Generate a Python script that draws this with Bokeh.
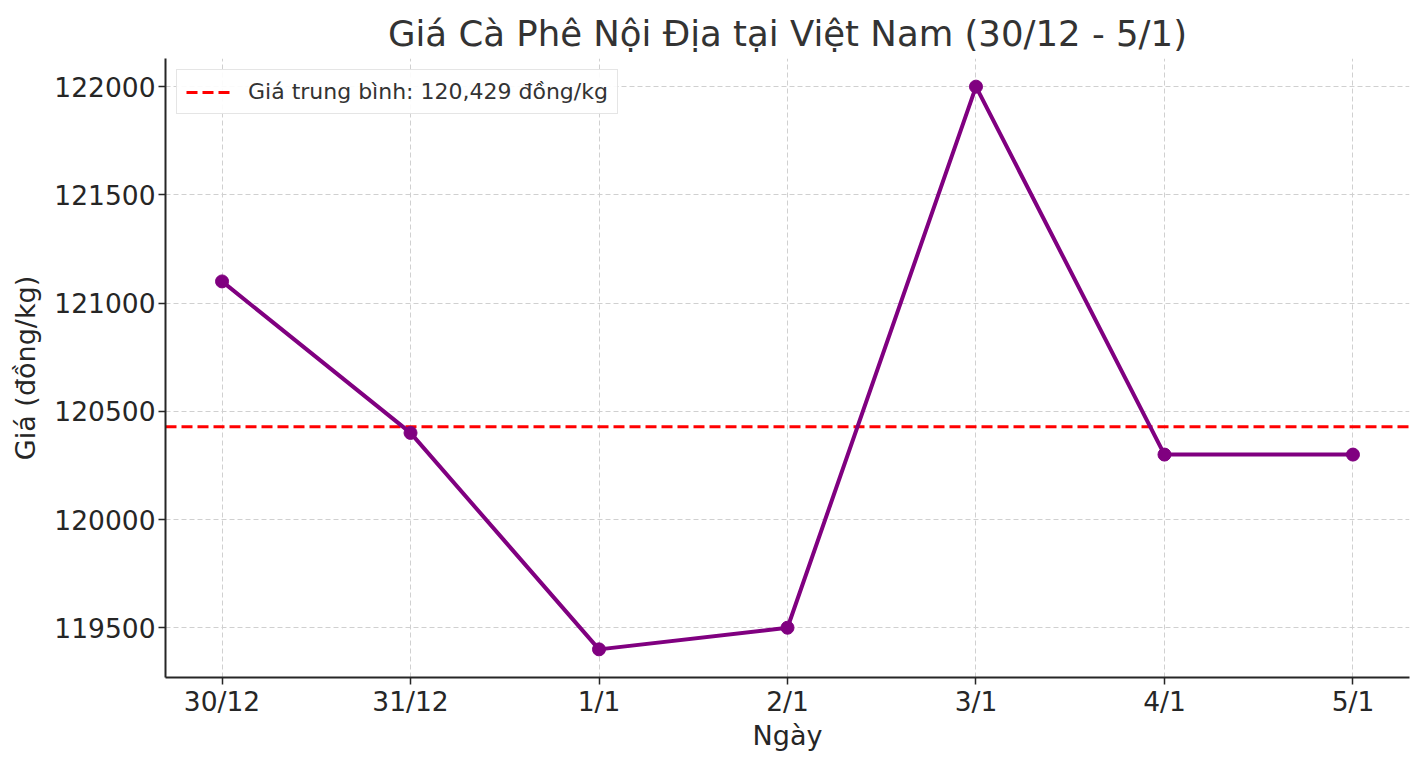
from bokeh.plotting import figure
from bokeh.models import FixedTicker, Range1d, Legend, LegendItem, NumeralTickFormatter
from bokeh.embed import file_html
from bokeh.resources import INLINE

dates = ["30/12", "31/12", "1/1", "2/1", "3/1", "4/1", "5/1"]
prices = [121100, 120400, 119400, 119500, 122000, 120300, 120300]
y_ticks = [119500, 120000, 120500, 121000, 121500, 122000]

mean_price = sum(prices) / len(prices)
xs = list(range(len(dates)))

FONT = "DejaVu Sans"

x_pad = 0.05 * (len(dates) - 1)
y_pad = 0.05 * (max(prices) - min(prices))

p = figure(width=1424, height=766, output_backend="svg", toolbar_location=None,
           x_range=Range1d(-x_pad, len(dates) - 1 + x_pad),
           y_range=Range1d(min(prices) - y_pad, max(prices) + y_pad),
           min_border_left=165, min_border_right=15, min_border_top=58, min_border_bottom=89)

p.title.text = "Giá Cà Phê Nội Địa tại Việt Nam (30/12 - 5/1)"
p.title.align = "center"
p.title.text_font = FONT
p.title.text_font_size = "35.5px"
p.title.text_font_style = "normal"
p.title.text_color = "#333333"

p.outline_line_color = None
p.background_fill_color = "white"
p.border_fill_color = "white"

for ax in (p.xaxis[0], p.yaxis[0]):
    ax.axis_line_color = "#262626"
    ax.axis_line_width = 2
    ax.major_tick_line_color = "#262626"
    ax.major_tick_line_width = 1.5
    ax.major_tick_out = 7
    ax.major_tick_in = 0
    ax.minor_tick_line_color = None
    ax.major_label_text_font = FONT
    ax.major_label_text_font_size = "26.5px"
    ax.major_label_text_color = "#262626"
    ax.axis_label_text_font = FONT
    ax.axis_label_text_font_size = "27px"
    ax.axis_label_text_font_style = "normal"
    ax.axis_label_text_color = "#262626"

p.xaxis.ticker = FixedTicker(ticks=xs)
p.xaxis.major_label_overrides = {i: d for i, d in enumerate(dates)}
p.xaxis.axis_label = "Ngày"
p.xaxis.major_label_standoff = 1
p.xaxis.axis_label_standoff = 0
p.yaxis.ticker = FixedTicker(ticks=y_ticks)
p.yaxis.formatter = NumeralTickFormatter(format="0")
p.yaxis.axis_label = "Giá (đồng/kg)"
p.yaxis.major_label_standoff = 3
p.yaxis.axis_label_standoff = 10

for g in (p.xgrid[0], p.ygrid[0]):
    g.grid_line_color = "#d0d0d0"
    g.grid_line_dash = "5 3"
    g.grid_line_width = 1

mean_r = p.line(x=[p.x_range.start, p.x_range.end], y=[mean_price, mean_price],
                line_color="red", line_width=2.8, line_dash="11 5")

p.line(xs, prices, line_color="purple", line_width=4)
p.scatter(xs, prices, size=13, fill_color="purple", line_color="purple")

legend = Legend(items=[LegendItem(label=f"Giá trung bình: {mean_price:,.0f} đồng/kg", renderers=[mean_r])],
                location="top_left")
legend.label_text_font = FONT
legend.label_text_font_size = "22px"
legend.label_text_color = "#333333"
legend.glyph_width = 48
legend.label_standoff = 14
legend.border_line_color = "#cccccc"
legend.border_line_width = 1.5
legend.margin = 11
legend.padding = 9
legend.background_fill_alpha = 0.9
p.add_layout(legend)

open("out.html", "w").write(file_html(p, INLINE))
